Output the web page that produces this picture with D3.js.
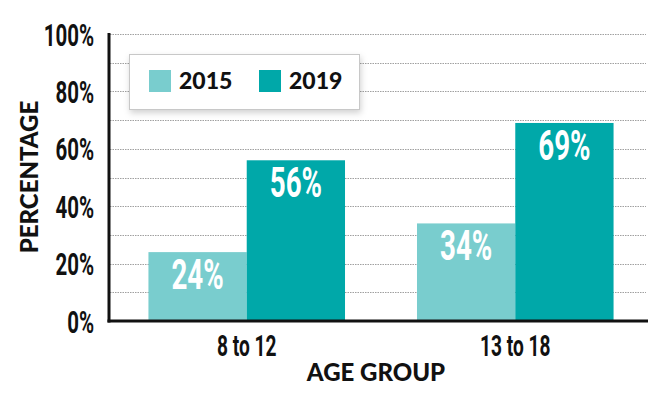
<!DOCTYPE html>
<html>
<head>
<meta charset="utf-8">
<script src="https://cdn.jsdelivr.net/npm/d3@7"></script>
<style>
body { margin: 0; background: #fff; }
.cond { font-family: Roboto, "Liberation Sans", sans-serif; font-weight: 700; }
.wide { font-family: Lato, "DejaVu Sans", sans-serif; font-weight: 900; }
</style>
</head>
<body>
<svg id="chart" width="670" height="399"></svg>
<script>
// data
var ageGroups = ["8 to 12", "13 to 18"];
var years = ["2015", "2019"];
var values2015 = [24, 34];
var values2019 = [56, 69];
var yTickValues = [0, 20, 40, 60, 80, 100];

var colors = { "2015": "#79cdce", "2019": "#00a8a9" };
var squeeze = 0.66; // condensed look for the number font

var plotLeft = 109, plotRight = 648, plotTop = 34, plotBottom = 321;

var svg = d3.select("#chart");

var rows = ageGroups.map(function (g, i) {
	return { group: g, "2015": values2015[i], "2019": values2019[i] };
});

var y = d3.scaleLinear().domain([0, 100]).range([plotBottom, plotTop]);
var x0 = d3.scaleBand().domain(ageGroups).range([112, 650]).paddingInner(0.268).paddingOuter(0.1357);
var x1 = d3.scaleBand().domain(years).range([0, x0.bandwidth()]);

// dotted grid
svg.append("g").selectAll("line").data(y.ticks(10).filter(function (d) { return d > 0; }))
	.enter().append("line")
	.attr("x1", plotLeft + 1).attr("x2", plotRight - 2)
	.attr("y1", function (d) { return Math.round(y(d)) + 0.5; })
	.attr("y2", function (d) { return Math.round(y(d)) + 0.5; })
	.attr("stroke", "#a0a0a0").attr("stroke-width", 1).attr("stroke-dasharray", "1.5,1");

// bars
var groups = svg.append("g").selectAll("g").data(rows).enter().append("g")
	.attr("transform", function (d) { return "translate(" + x0(d.group) + ",0)"; });

groups.selectAll("rect").data(function (d) {
	return years.map(function (k) { return { key: k, value: d[k] }; });
}).enter().append("rect")
	.attr("x", function (d) { return x1(d.key); })
	.attr("y", function (d) { return y(d.value); })
	.attr("width", x1.bandwidth())
	.attr("height", function (d) { return y(0) - y(d.value); })
	.attr("fill", function (d) { return colors[d.key]; });

groups.selectAll("text").data(function (d) {
	return years.map(function (k) { return { key: k, value: d[k] }; });
}).enter().append("text")
	.attr("class", "cond")
	.attr("transform", function (d) {
		return "translate(" + (x1(d.key) + x1.bandwidth() / 2) + "," + (y(d.value) + 37) + ") scale(" + squeeze + ",1)";
	})
	.attr("text-anchor", "middle")
	.attr("font-size", 42)
	.attr("fill", "#fff")
	.text(function (d) { return d.value + "%"; });

// y tick labels
var yAxis = svg.append("g").attr("transform", "translate(" + plotLeft + ",0)")
	.call(d3.axisLeft(y).tickValues(yTickValues).tickSize(0).tickFormat(function (d) { return d + "%"; }));
yAxis.select(".domain").remove();
yAxis.selectAll("text")
	.attr("class", "cond")
	.attr("font-size", 31)
	.attr("fill", "#111")
	.attr("x", -15 / squeeze)
	.attr("dy", "0.36em")
	.attr("transform", "scale(" + squeeze + ",1)");

// x tick labels
var xAxis = svg.append("g").attr("transform", "translate(0," + plotBottom + ")")
	.call(d3.axisBottom(x0).tickSize(0));
xAxis.select(".domain").remove();
xAxis.selectAll(".tick text")
	.attr("class", "cond")
	.attr("font-size", 29)
	.attr("fill", "#111")
	.attr("y", 35)
	.attr("dy", 0)
	.attr("transform", "scale(" + squeeze + ",1)");

// axis lines
svg.append("line").attr("x1", plotLeft).attr("x2", plotLeft).attr("y1", plotTop - 1).attr("y2", plotBottom + 1.5)
	.attr("stroke", "#111").attr("stroke-width", 3);
svg.append("line").attr("x1", plotLeft - 1.5).attr("x2", plotRight).attr("y1", plotBottom).attr("y2", plotBottom)
	.attr("stroke", "#111").attr("stroke-width", 3);

// axis titles
svg.append("text").attr("class", "wide")
	.attr("transform", "translate(38,177) rotate(-90)")
	.attr("text-anchor", "middle").attr("font-size", 24).attr("fill", "#111")
	.text("PERCENTAGE");
svg.append("text").attr("class", "wide")
	.attr("x", 376).attr("y", 381)
	.attr("text-anchor", "middle").attr("font-size", 24).attr("fill", "#111")
	.text("AGE GROUP");

// legend
var defs = svg.append("defs");
var f = defs.append("filter").attr("id", "shadow").attr("x", "-10%").attr("y", "-20%").attr("width", "130%").attr("height", "160%");
f.append("feDropShadow").attr("dx", 1).attr("dy", 3).attr("stdDeviation", 3).attr("flood-color", "#000").attr("flood-opacity", 0.18);

var legend = svg.append("g").attr("transform", "translate(129,54)");
legend.append("rect").attr("x", 0.5).attr("y", 0.5).attr("width", 230).attr("height", 55)
	.attr("fill", "#fff").attr("stroke", "#c8c8c8").attr("filter", "url(#shadow)");
var items = legend.selectAll("g.item").data(years).enter().append("g")
	.attr("class", "item")
	.attr("transform", function (d, i) { return "translate(" + (20 + i * 110) + ",16)"; });
items.append("rect").attr("width", 22).attr("height", 22)
	.attr("fill", function (d) { return colors[d]; });
items.append("text").attr("class", "wide")
	.attr("x", 30).attr("y", 19)
	.attr("font-size", 23).attr("fill", "#111")
	.text(function (d) { return d; });
</script>
</body>
</html>
